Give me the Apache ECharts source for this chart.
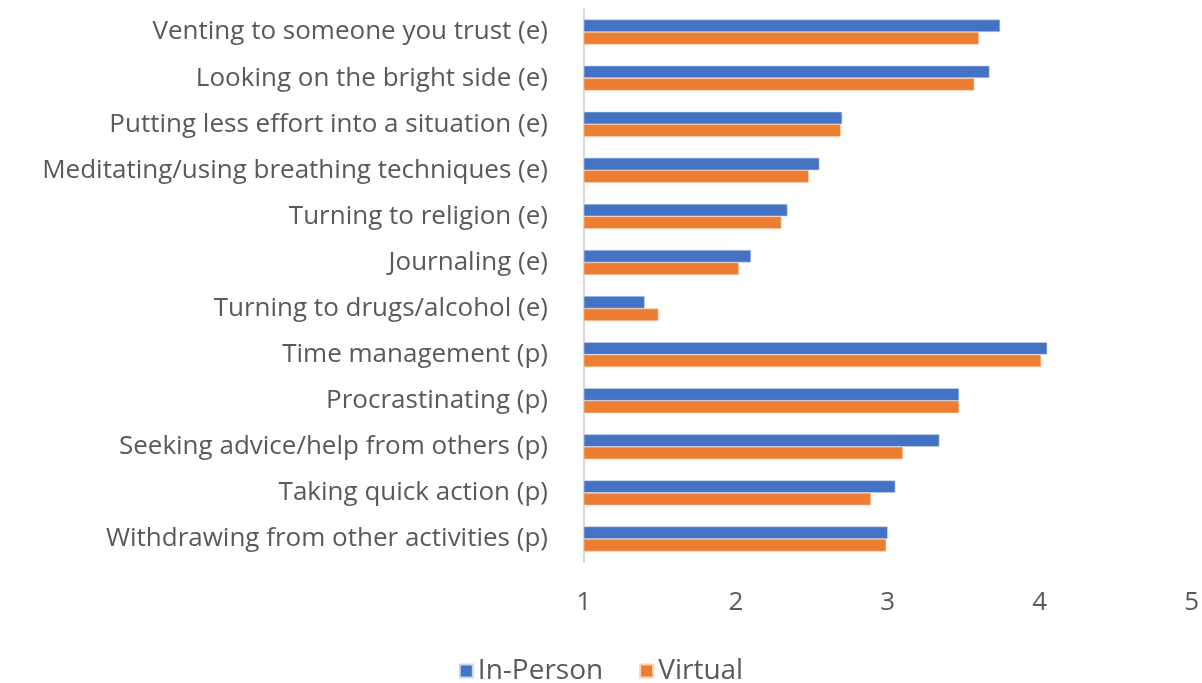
<!DOCTYPE html>
<html>
<head>
<meta charset="utf-8">
<style>
  html, body { margin: 0; padding: 0; background: #fff; }
  #chart { width: 1202px; height: 683px; }
</style>
<script src="https://cdn.jsdelivr.net/npm/echarts@6/dist/echarts.min.js"></script>
</head>
<body>
<div id="chart"></div>
<script>
// categories, top to bottom
const categories = [
  'Venting to someone you trust (e)',
  'Looking on the bright side (e)',
  'Putting less effort into a situation (e)',
  'Meditating/using breathing techniques (e)',
  'Turning to religion (e)',
  'Journaling (e)',
  'Turning to drugs/alcohol (e)',
  'Time management (p)',
  'Procrastinating (p)',
  'Seeking advice/help from others (p)',
  'Taking quick action (p)',
  'Withdrawing from other activities (p)'
]
const inPerson = [3.74, 3.67, 2.70, 2.55, 2.34, 2.10, 1.40, 4.05, 3.47, 3.34, 3.05, 3.00]
const virtual = [3.60, 3.57, 2.69, 2.48, 2.30, 2.02, 1.49, 4.01, 3.47, 3.10, 2.89, 2.99]
const xTicks = [1, 2, 3, 4, 5]

const textColor = '#595959'
const fontFamily = '"Open Sans", "Noto Sans", sans-serif'

const chart = echarts.init(document.getElementById('chart'))

const option = {
  animation: false,
  textStyle: { fontFamily: fontFamily },
  grid: {
    left: 584,
    right: 10,
    top: 9,
    height: 553
  },
  legend: {
    top: 652,
    left: 'center',
    itemWidth: 13,
    itemHeight: 13,
    itemGap: 36,
    icon: 'rect',
    textStyle: { color: textColor, fontSize: 28, fontFamily: fontFamily },
    data: ['In-Person', 'Virtual']
  },
  xAxis: {
    type: 'value',
    min: xTicks[0],
    max: xTicks[xTicks.length - 1],
    interval: 1,
    axisLine: { show: false },
    axisTick: { show: false },
    splitLine: { show: false },
    axisLabel: {
      color: textColor,
      fontSize: 26,
      margin: 28,
      fontFamily: fontFamily
    }
  },
  yAxis: {
    type: 'category',
    inverse: true,
    data: categories,
    axisLine: { show: true, lineStyle: { color: '#d9d9d9', width: 2 } },
    axisTick: { show: false },
    axisLabel: {
      color: textColor,
      fontSize: 26,
      margin: 36,
      fontFamily: fontFamily
    }
  },
  series: [
    {
      name: 'In-Person',
      type: 'bar',
      data: inPerson,
      barWidth: 12.5,
      barGap: '0%',
      itemStyle: { color: '#4472C4', borderColor: '#c9d6ee', borderWidth: 0.6 }
    },
    {
      name: 'Virtual',
      type: 'bar',
      data: virtual,
      barWidth: 12.5,
      barGap: '0%',
      itemStyle: { color: '#ED7D31', borderColor: '#f8d2b8', borderWidth: 0.6 }
    }
  ]
}

chart.setOption(option)
</script>
</body>
</html>
